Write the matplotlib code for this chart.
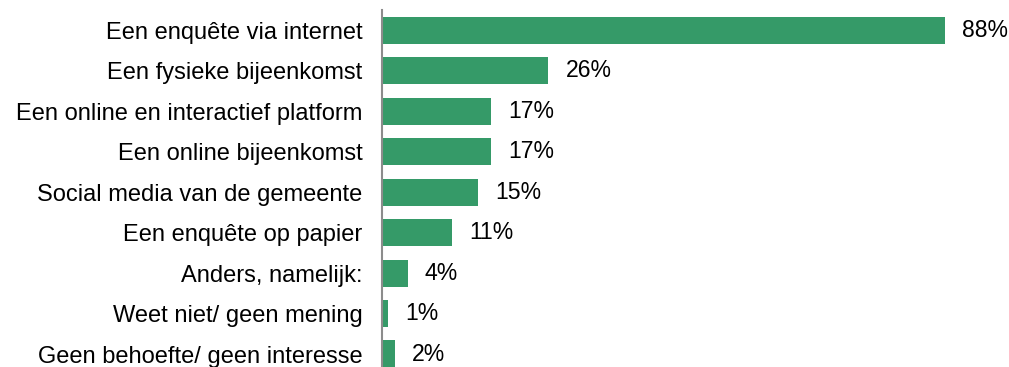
import matplotlib.pyplot as plt

plt.rcParams['font.family'] = ['Liberation Sans', 'DejaVu Sans']

categories = [
    'Een enquête via internet',
    'Een fysieke bijeenkomst',
    'Een online en interactief platform',
    'Een online bijeenkomst',
    'Social media van de gemeente',
    'Een enquête op papier',
    'Anders, namelijk:',
    'Weet niet/ geen mening',
    'Geen behoefte/ geen interesse',
]
values = [88, 26, 17, 17, 15, 11, 4, 1, 2]

fig = plt.figure(figsize=(10.09, 3.67), dpi=100)
ax = fig.add_axes([382 / 1009, 0, 1 - 382 / 1009, 357 / 367])

pos = list(range(len(categories)))
ax.barh(pos, values, height=0.67, color='#359a68')
ax.set_xlim(0, (1009 - 382) / 6.4)
ax.set_ylim(8.32, -0.5)

for p, v in zip(pos, values):
    ax.annotate(f'{v}%', (v, p), xytext=(17, 0), textcoords='offset pixels',
                va='center', ha='left', fontsize=16.6, color='black')

ax.set_yticks(pos)
ax.set_yticklabels(categories, fontsize=17)
ax.tick_params(axis='y', length=0, pad=14)
ax.set_xticks([])
for s in ['top', 'right', 'bottom']:
    ax.spines[s].set_visible(False)
ax.spines['left'].set_color('#8c8c8c')
ax.spines['left'].set_linewidth(1.5)

fig.savefig('out.png', dpi=100)
